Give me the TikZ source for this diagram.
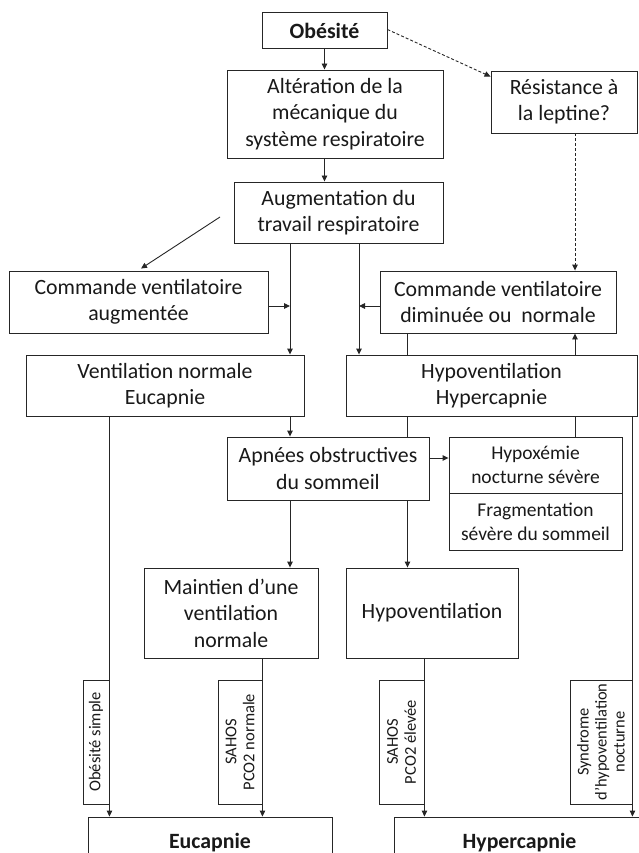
\documentclass[tikz,border=0pt]{standalone}
\usepackage{fontspec}
\setmainfont{Carlito}
\usetikzlibrary{arrows.meta,backgrounds}
\tikzset{
  box/.style={draw=black!85, line width=0.9pt, fill=white, inner sep=0pt, align=center,
    text=black!90, font=\fontsize{21.8}{26.5}\selectfont},
  sbox/.style={box, font=\fontsize{19.5}{24}\selectfont},
  lab/.style={draw=black!85, line width=0.9pt, fill=white, inner sep=0pt, align=center,
    rotate=90, text=black!90, font=\fontsize{16.5}{18}\selectfont, minimum width=124pt},
  arr/.style={line width=0.9pt, draw=black!85, -{Triangle[length=6pt,width=5.5pt]}},
  ln/.style={line width=0.9pt, draw=black!85},
  dsh/.style={line width=0.9pt, draw=black!85, dash pattern=on 3pt off 2pt}
}
\begin{document}
\begin{tikzpicture}[x=1pt,y=-1pt]
\useasboundingbox (0,0) rectangle (639,853);

% boxes
\node[box, minimum width=125pt, minimum height=35.5pt] (obes) at (324.5,30.5) {\textbf{Obésité}};
\node[box, minimum width=216pt, minimum height=88pt] (alter) at (335,114) {Altération de la\\mécanique du\\système respiratoire};
\node[box, minimum width=146pt, minimum height=62pt] (resist) at (564,102) {Résistance à\\la leptine?};
\node[box, minimum width=209pt, minimum height=61pt] (augm) at (338.5,212.5) {Augmentation du\\travail respiratoire};
\node[box, minimum width=259pt, minimum height=62pt] (cmdL) at (138.5,302) {Commande ventilatoire\\augmentée};
\node[box, minimum width=236pt, minimum height=62pt] (cmdR) at (498,302) {Commande ventilatoire\\diminuée ou\ \ normale};
\node[box, minimum width=278pt, minimum height=61pt] (ventN) at (165,385.5) {Ventilation normale\\Eucapnie};
\node[box, minimum width=291pt, minimum height=61pt] (hypoH) at (491.5,385.5) {Hypoventilation\\Hypercapnie};
\node[box, minimum width=202pt, minimum height=63pt] (apnee) at (328,468.5) {Apnées obstructives\\du sommeil};
\node[sbox, minimum width=173pt, minimum height=56pt] (hypox) at (535.5,465) {Hypoxémie\\nocturne sévère};
\node[sbox, minimum width=173pt, minimum height=57pt] (fragm) at (535.5,521.5) {Fragmentation\\sévère du sommeil};
\node[box, minimum width=174pt, minimum height=90pt] (maint) at (231,613) {Maintien d’une\\ventilation\\normale};
\node[box, minimum width=172pt, minimum height=90pt] (hypoV) at (432,613) {Hypoventilation};
\node[lab, minimum height=26pt] (lab1) at (96,742) {Obésité simple};
\node[lab, minimum height=44pt] (lab2) at (240,742) {SAHOS\\PCO2 normale};
\node[lab, minimum height=45pt] (lab3) at (401.5,742) {SAHOS\\PCO2 élevée};
\node[lab, minimum height=62pt] (lab4) at (601,742) {Syndrome\\d’hypoventilation\\nocturne};
\node[box, minimum width=244pt, minimum height=52pt] (euca) at (210,843) {\textbf{Eucapnie}};
\node[box, minimum width=251pt, minimum height=52pt] (hyper) at (519.5,843) {\textbf{Hypercapnie}};

% helper coordinates
\coordinate (xa) at (290,0);
\coordinate (xb) at (359,0);
\coordinate (xc) at (575,0);
\coordinate (xd) at (407.5,0);
\coordinate (dstart) at (220,217);

\begin{scope}[on background layer]
\draw[arr] (obes.south) -- (obes.south |- alter.north);
\draw[arr] (alter.south -| obes.south) -- (augm.north -| obes.south);
\draw[dsh, -{Triangle[length=6pt,width=5.5pt]}] ([yshift=1pt]obes.east) -- ([yshift=-6pt]resist.north west);
\draw[dsh, -{Triangle[length=6pt,width=5.5pt]}] (resist.south -| xc) -- (cmdR.north -| xc);
\draw[arr] (dstart) -- ([xshift=2.5pt,yshift=2pt]cmdL.north);
\draw[arr] (augm.south -| xa) -- (ventN.north -| xa);
\draw[arr] (augm.south -| xb) -- (hypoH.north -| xb);
\draw[arr] ([yshift=-4pt]cmdL.east) -- ([yshift=-4pt]cmdL.east -| xa);
\draw[arr] ([yshift=-4pt]cmdR.west) -- ([yshift=-4pt]cmdR.west -| xb);
\draw[arr] (hypoH.north -| xc) -- (cmdR.south -| xc);
\draw[ln] (cmdR.south -| xd) -- (hypoH.north -| xd);
\draw[ln] (hypoH.south -| xd) -- (apnee.north -| xd);
\draw[arr] (apnee.south -| xd) -- (hypoV.north -| xd);
\draw[arr] (ventN.south -| xa) -- (apnee.north -| xa);
\draw[arr] (apnee.south -| xa) -- (maint.north -| xa);
\draw[arr] ([yshift=10.5pt]apnee.east) -- ([yshift=10.5pt]apnee.east -| hypox.west);
\draw[ln] (hypoH.south -| xc) -- (hypox.north -| xc);
\draw[arr] (ventN.south -| lab1.south) -- (euca.north -| lab1.south);
\draw[arr] (maint.south -| lab2.south) -- (euca.north -| lab2.south);
\draw[arr] (hypoV.south -| lab3.south) -- (hyper.north -| lab3.south);
\draw[arr] (hypoH.south -| lab4.south) -- (hyper.north -| lab4.south);
\end{scope}
\end{tikzpicture}
\end{document}
